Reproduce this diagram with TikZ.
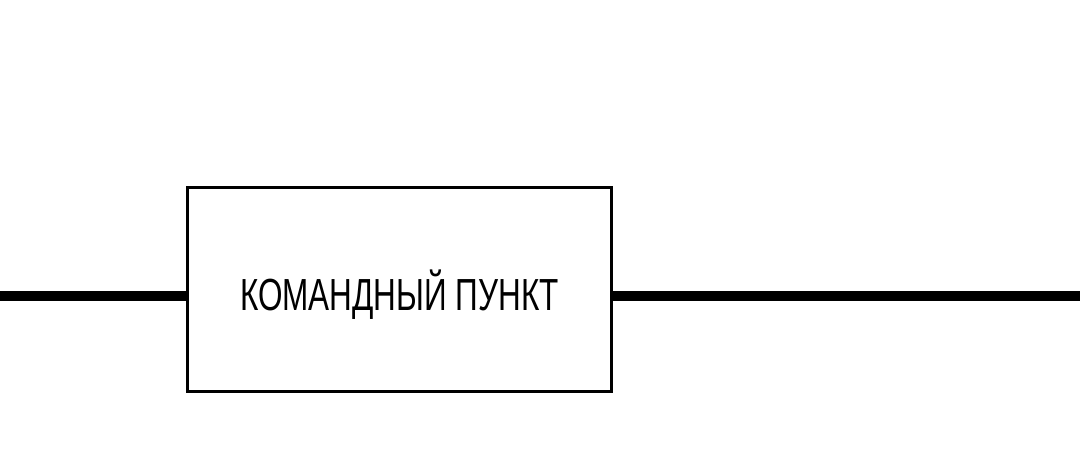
\documentclass[tikz,border=0pt]{standalone}
\usepackage{fontspec}
\newfontfamily\boxfont[FakeStretch=0.70]{Liberation Sans}
\usetikzlibrary{positioning,calc}

\begin{document}
\begin{tikzpicture}[
        unitBox/.style={draw=black, line width=2.4pt, fill=white, minimum width=10.6cm, minimum height=5.1cm, inner sep=0pt, font=\boxfont\fontsize{32}{36}\selectfont},
        busLine/.style={draw=black, line width=6.6pt}
    ]
        \useasboundingbox (0,0) rectangle (27,11.65);

        % Command post
        \node[unitBox] (cmdPost) at (9.9875, 4.4125) {\raisebox{-0.12cm}[\height][\depth]{КОМАНДНЫЙ ПУНКТ}};

        % Line ends
        \coordinate (leftEnd) at (0, 4.25);
        \coordinate (rightEnd) at (27, 4.25);

        \draw[busLine] (leftEnd) -- (cmdPost.west |- leftEnd);
        \draw[busLine] (cmdPost.east |- rightEnd) -- (rightEnd);
    \end{tikzpicture}
\end{document}
